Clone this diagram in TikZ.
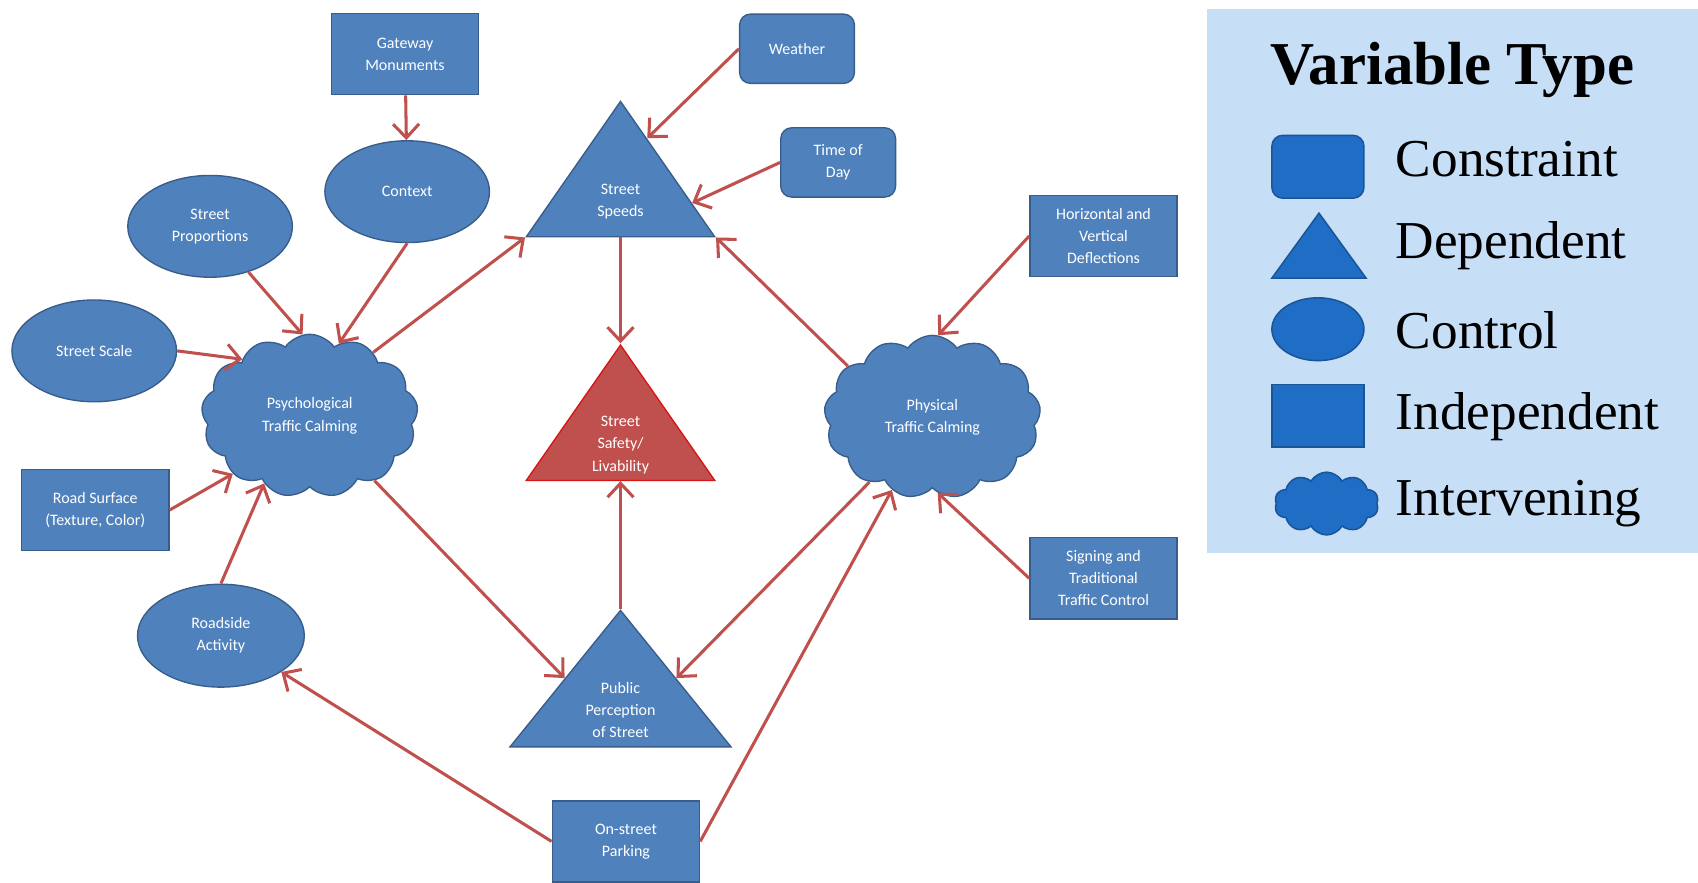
\documentclass[tikz,border=0pt]{standalone}
\usepackage{fontspec}
\setmainfont{Liberation Serif}
\newfontfamily\calfont{Carlito}
\usetikzlibrary{shapes.geometric, shapes.symbols, arrows.meta, calc}
\definecolor{boxblue}{HTML}{4F81BD}
\definecolor{boxedge}{HTML}{385D8A}
\definecolor{arrowred}{HTML}{C0504D}
\definecolor{safetyedge}{HTML}{D81414}
\definecolor{legendbg}{HTML}{C6DEF6}
\definecolor{legendblue}{HTML}{1F6DC5}
\definecolor{legendedge}{HTML}{1A5597}

\begin{document}
\begin{tikzpicture}[x=0.25mm, y=-0.25mm,
    every node/.style={font=\calfont\fontsize{10.5}{14.5}\selectfont, text=white, align=center},
    base/.style={draw=boxedge, fill=boxblue, line width=0.9pt},
    indep/.style={base, rectangle, minimum width=34mm, minimum height=18.75mm},
    constr/.style={base, rectangle, rounded corners=2.5mm, minimum width=26.5mm, minimum height=16mm},
    ctrl/.style={base, ellipse, minimum width=38mm, minimum height=23.5mm},
    interv/.style={base, cloud, cloud puffs=13, cloud puff arc=110, minimum width=50mm, minimum height=37mm},
    dep/.style={base, isosceles triangle, isosceles triangle stretches, shape border rotate=90, inner sep=0pt},
    lgd/.style={draw=legendedge, fill=legendblue, line width=1pt},
    lgdtext/.style={font=\rmfamily\fontsize{35}{36}\selectfont, text=black, anchor=west},
    arr/.style={draw=arrowred, line width=2pt, -{Straight Barb[length=3.2mm, width=6mm]}}]
    \useasboundingbox (0,0) rectangle (1568,815);

    \node[indep] (gw) at (374,50) {Gateway\\Monuments};
    \node[ctrl] (ctx) at (376,177) {Context};
    \node[ctrl] (prop) at (194,209) {Street\\Proportions};
    \node[ctrl] (scale) at (87,324) {Street Scale};
    \node[interv] (psy) at (286,384) {Psychological\\Traffic Calming};
    \node[indep] (road) at (88,471) {Road Surface\\(Texture, Color)};
    \node[ctrl, minimum width=38.5mm, minimum height=23.75mm] (ra) at (204,587) {Roadside\\Activity};

    \node[dep, anchor=apex, minimum width=43.5mm, minimum height=31.25mm] (spd) at (573,92) {};
    \node (spd-txt) at (573,186) {Street\\Speeds};
    \node[dep, anchor=apex, fill=arrowred, draw=safetyedge, minimum width=43.5mm, minimum height=31.25mm] (saf) at (573,317) {};
    \node (saf-txt) at (573,411) {Street\\Safety/\\Livability};
    \node[dep, anchor=apex, minimum width=51mm, minimum height=31.5mm] (pub) at (573,562) {};
    \node (pub-txt) at (573,656) {Public\\Perception\\of Street};

    \node[constr] (wea) at (736,45) {Weather};
    \node[constr] (tod) at (774,150) {Time of\\Day};
    \node[indep] (hv) at (1019,218) {Horizontal and\\Vertical\\Deflections};
    \node[interv] (phy) at (861,385) {Physical\\Traffic Calming};
    \node[indep] (sig) at (1019,534) {Signing and\\Traditional\\Traffic Control};
    \node[indep] (park) at (578,777) {On-street\\Parking};

    \draw[arr] (gw) -- (ctx);
    \draw[arr] (ctx.south) -- (psy.68);
    \draw[arr] (prop.-50) -- (psy.95);
    \draw[arr] (scale.east) -- (psy.140);
    \draw[arr] (road.east) -- (psy.217);
    \draw[arr] (ra.north) -- (psy.236);
    \draw[arr] (psy.45) -- (spd.left corner);
    \draw[arr] (psy.-45) -- (pub.left side);
    \draw[arr] (wea.west) -- ($(spd.apex)!0.28!(spd.right corner)$);
    \draw[arr] (tod.west) -- ($(spd.apex)!0.75!(spd.right corner)$);
    \draw[arr] (spd.lower side) -- (saf.apex);
    \draw[arr] (pub.apex) -- (saf.lower side);
    \draw[arr] (hv.west) -- (phy.86);
    \draw[arr] (phy.149) -- (spd.right corner);
    \draw[arr] (phy.226) -- (pub.right side);
    \draw[arr] (sig.west) -- (phy.274);
    \draw[arr] (park.east) -- (phy.241);
    \draw[arr] (park.west) -- (ra.-31);

    \fill[legendbg] (1115,8) rectangle (1568,511);
    \node[font=\rmfamily\bfseries\fontsize{40}{41}\selectfont, text=black] (lgd-title) at (1341,65) {Variable Type};
    \node[lgd, rectangle, rounded corners=2.5mm, minimum width=21.25mm, minimum height=14.5mm] (lgd-constr) at (1217,154) {};
    \node[lgd, isosceles triangle, isosceles triangle stretches, shape border rotate=90, inner sep=0pt, anchor=apex, minimum width=21.75mm, minimum height=15mm] (lgd-dep) at (1218,195) {};
    \node[lgd, ellipse, minimum width=21.25mm, minimum height=14.5mm] (lgd-ctrl) at (1217,304) {};
    \node[lgd, rectangle, minimum width=21.25mm, minimum height=14.5mm] (lgd-indep) at (1217,384) {};
    \node[lgd, cloud, cloud puffs=10, cloud puff arc=120, minimum width=24mm, minimum height=14.5mm] (lgd-interv) at (1225,465) {};
    \node[lgdtext] (lgd-constr-txt) at (1284,147) {Constraint};
    \node[lgdtext] (lgd-dep-txt) at (1284,227) {Dependent};
    \node[lgdtext] (lgd-ctrl-txt) at (1284,305) {Control};
    \node[lgdtext] (lgd-indep-txt) at (1284,385) {Independent};
    \node[lgdtext] (lgd-interv-txt) at (1284,465) {Intervening};
\end{tikzpicture}
\end{document}
